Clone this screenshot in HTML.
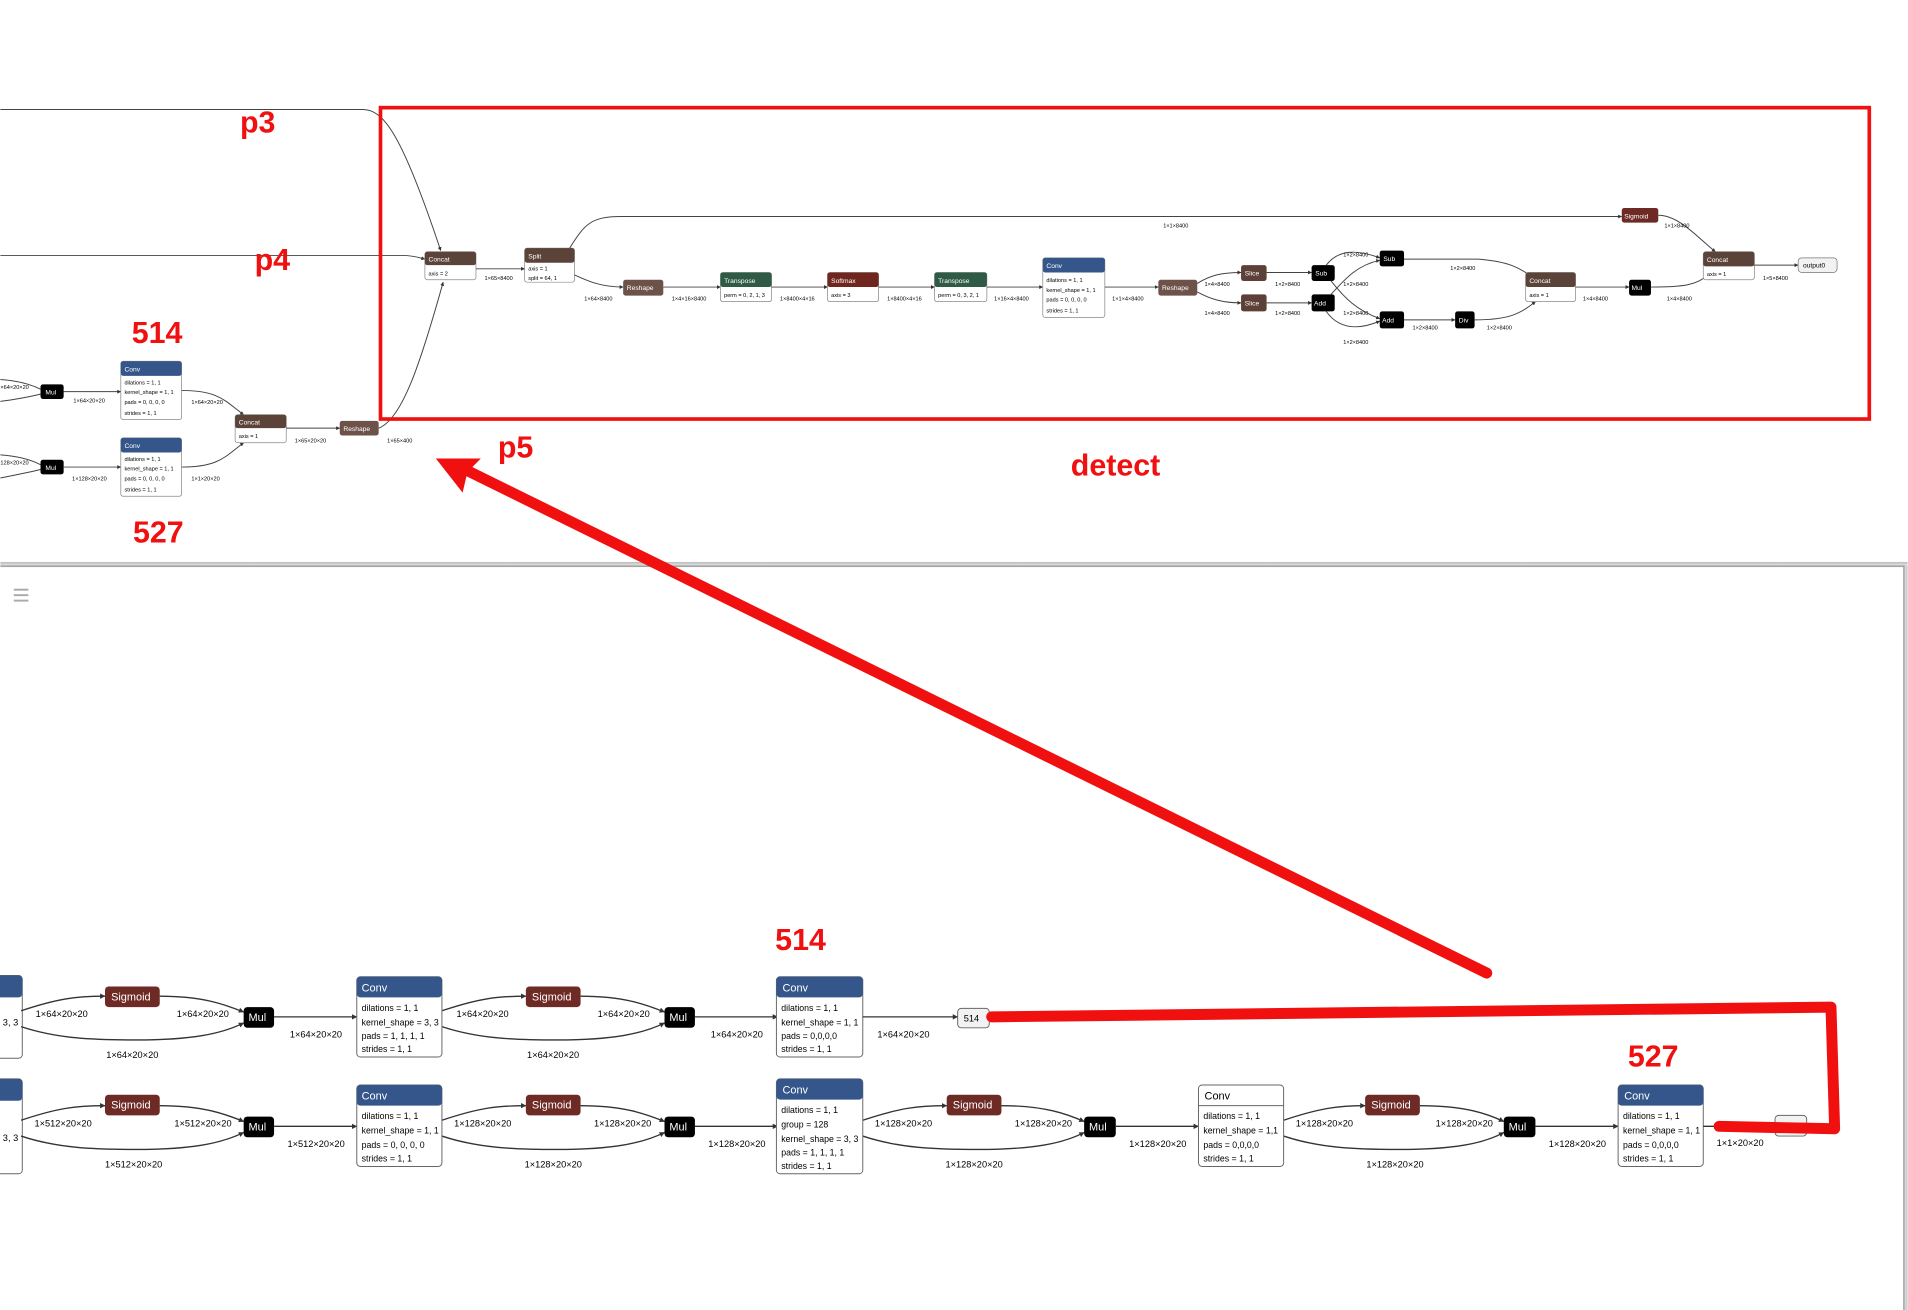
<!DOCTYPE html>
<html><head><meta charset="utf-8"><style>
html,body{margin:0;padding:0;background:#fff;width:1908px;height:1310px;overflow:hidden}
svg{display:block}
.e{fill:none;stroke:#444;stroke-width:0.8}
.eb{fill:none;stroke:#333;stroke-width:1.1}
.t{font-family:"Liberation Sans",sans-serif;font-size:4.6px;fill:#000}
.tw{font-family:"Liberation Sans",sans-serif;font-size:5.5px;fill:#fff}
.l{font-family:"Liberation Sans",sans-serif;font-size:7.6px;fill:#000}
.a{font-family:"Liberation Sans",sans-serif;font-size:7.2px;fill:#000}
.lw{font-family:"Liberation Sans",sans-serif;font-size:9px;fill:#fff}
.r{font-family:"Liberation Sans",sans-serif;font-size:25px;font-weight:bold;fill:#f01010}
</style></head><body>
<svg width="1908" height="1310" viewBox="0 0 1568 1077" xmlns="http://www.w3.org/2000/svg">
<defs>
<marker id="a" viewBox="0 0 6 6" refX="5.5" refY="3" markerWidth="4" markerHeight="4" orient="auto"><path d="M0,0L6,3L0,6z" fill="#333"/></marker>
<linearGradient id="sh" x1="0" y1="0" x2="0" y2="1"><stop offset="0" stop-color="#bbb"/><stop offset="1" stop-color="#fff"/></linearGradient>
</defs>

<!-- ===== TOP SECTION ===== -->
<path class="e" d="M0,90 L298,90 C315,90 330,110 362,206" marker-end="url(#a)"/>
<path class="e" d="M0,210 L330,210 C340,210 345,212 349,213" marker-end="url(#a)"/>
<path class="e" d="M311,352 C330,345 345,300 364,232" marker-end="url(#a)"/>
<path class="e" d="M0,312 C15,313 25,316 33,320"/>
<path class="e" d="M0,330 C15,328 25,326 33,324"/>
<path class="e" d="M0,374 C15,375 25,378 33,382"/>
<path class="e" d="M0,393 C15,390 25,388 33,386"/>
<rect x="33" y="316" width="19" height="12" rx="2" fill="#000"/><text class="tw" x="37" y="324.5">Mul</text>
<rect x="33" y="378" width="19" height="12" rx="2" fill="#000"/><text class="tw" x="37" y="386.5">Mul</text>
<text class="t" x="0" y="320">×64×20×20</text><text class="t" x="0" y="382">128×20×20</text>
<path class="e" d="M52,322 L99,322" marker-end="url(#a)"/><text class="t" x="60" y="331">1×64×20×20</text>
<path class="e" d="M52,384 L99,384" marker-end="url(#a)"/><text class="t" x="59" y="395">1×128×20×20</text>
<g>
<rect x="99" y="297" width="50" height="48" rx="2" fill="#fff" stroke="#888" stroke-width="0.6"/>
<rect x="99" y="297" width="50" height="12" rx="2" fill="#34568a"/>
<text class="tw" x="102" y="305.5">Conv</text>
<text class="t" x="102" y="316">dilations = 1, 1</text><text class="t" x="102" y="324">kernel_shape = 1, 1</text><text class="t" x="102" y="332">pads = 0, 0, 0, 0</text><text class="t" x="102" y="341">strides = 1, 1</text>
</g>
<g>
<rect x="99" y="360" width="50" height="48" rx="2" fill="#fff" stroke="#888" stroke-width="0.6"/>
<rect x="99" y="360" width="50" height="12" rx="2" fill="#34568a"/>
<text class="tw" x="102" y="368.5">Conv</text>
<text class="t" x="102" y="379">dilations = 1, 1</text><text class="t" x="102" y="387">kernel_shape = 1, 1</text><text class="t" x="102" y="395">pads = 0, 0, 0, 0</text><text class="t" x="102" y="404">strides = 1, 1</text>
</g>
<path class="e" d="M149,321 C180,321 185,330 200,341" marker-end="url(#a)"/><text class="t" x="157" y="332">1×64×20×20</text>
<path class="e" d="M149,384 C180,384 185,375 200,364" marker-end="url(#a)"/><text class="t" x="157" y="395">1×1×20×20</text>
<rect x="193" y="341" width="42" height="23" rx="2" fill="#fff" stroke="#888" stroke-width="0.6"/>
<rect x="193" y="341" width="42" height="11" rx="2" fill="#5c4339"/>
<text class="tw" x="196" y="349">Concat</text><text class="t" x="196" y="360">axis = 1</text>
<path class="e" d="M235,352 L279,352" marker-end="url(#a)"/><text class="t" x="242" y="364">1×65×20×20</text>
<rect x="279" y="346" width="32" height="12" rx="2" fill="#6d5249"/><text class="tw" x="282" y="354.5">Reshape</text>
<text class="t" x="318" y="364">1×65×400</text>

<rect x="349" y="207" width="42" height="23" rx="2" fill="#fff" stroke="#888" stroke-width="0.6"/>
<rect x="349" y="207" width="42" height="11" rx="2" fill="#5c4339"/>
<text class="tw" x="352" y="215">Concat</text><text class="t" x="352" y="226.5">axis = 2</text>
<path class="e" d="M391,221 L431,221" marker-end="url(#a)"/><text class="t" x="398" y="230">1×65×8400</text>
<rect x="431" y="204" width="41" height="28" rx="2" fill="#fff" stroke="#888" stroke-width="0.6"/>
<rect x="431" y="204" width="41" height="12" rx="2" fill="#5c4339"/>
<text class="tw" x="434" y="212.5">Split</text><text class="t" x="434" y="222.5">axis = 1</text><text class="t" x="434" y="230">split = 64, 1</text>
<path class="e" d="M468,204 C480,185 485,178 510,178 L1333,178" marker-end="url(#a)"/><text class="t" x="956" y="187">1×1×8400</text>
<path class="e" d="M472,226 C485,232 495,236 512,236" marker-end="url(#a)"/><text class="t" x="480" y="247">1×64×8400</text>
<rect x="512" y="230" width="33" height="13" rx="2" fill="#6d5249"/><text class="tw" x="515" y="238.5">Reshape</text>
<path class="e" d="M545,236 L592,236" marker-end="url(#a)"/><text class="t" x="552" y="247">1×4×16×8400</text>
<rect x="592" y="224" width="42" height="24" rx="2" fill="#fff" stroke="#888" stroke-width="0.6"/>
<rect x="592" y="224" width="42" height="12" rx="2" fill="#2f5a45"/>
<text class="tw" x="595" y="232.5">Transpose</text><text class="t" x="595" y="244">perm = 0, 2, 1, 3</text>
<path class="e" d="M634,236 L680,236" marker-end="url(#a)"/><text class="t" x="641" y="247">1×8400×4×16</text>
<rect x="680" y="224" width="42" height="24" rx="2" fill="#fff" stroke="#888" stroke-width="0.6"/>
<rect x="680" y="224" width="42" height="12" rx="2" fill="#70261f"/>
<text class="tw" x="683" y="232.5">Softmax</text><text class="t" x="683" y="244">axis = 3</text>
<path class="e" d="M722,236 L768,236" marker-end="url(#a)"/><text class="t" x="729" y="247">1×8400×4×16</text>
<rect x="768" y="224" width="43" height="24" rx="2" fill="#fff" stroke="#888" stroke-width="0.6"/>
<rect x="768" y="224" width="43" height="12" rx="2" fill="#2f5a45"/>
<text class="tw" x="771" y="232.5">Transpose</text><text class="t" x="771" y="244">perm = 0, 3, 2, 1</text>
<path class="e" d="M811,236 L857,236" marker-end="url(#a)"/><text class="t" x="817" y="247">1×16×4×8400</text>
<rect x="857" y="212" width="51" height="49" rx="2" fill="#fff" stroke="#888" stroke-width="0.6"/>
<rect x="857" y="212" width="51" height="12" rx="2" fill="#34568a"/>
<text class="tw" x="860" y="220.5">Conv</text>
<text class="t" x="860" y="232">dilations = 1, 1</text><text class="t" x="860" y="240">kernel_shape = 1, 1</text><text class="t" x="860" y="248">pads = 0, 0, 0, 0</text><text class="t" x="860" y="257">strides = 1, 1</text>
<path class="e" d="M908,236 L952,236" marker-end="url(#a)"/><text class="t" x="914" y="247">1×1×4×8400</text>
<rect x="952" y="230" width="32" height="13" rx="2" fill="#6d5249"/><text class="tw" x="955" y="238.5">Reshape</text>
<path class="e" d="M984,233 C995,226 1005,224 1020,224" marker-end="url(#a)"/><text class="t" x="990" y="235">1×4×8400</text>
<path class="e" d="M984,240 C995,246 1005,249 1020,249" marker-end="url(#a)"/><text class="t" x="990" y="259">1×4×8400</text>
<rect x="1020" y="218" width="21" height="13" rx="2" fill="#5d4037"/><text class="tw" x="1023" y="226.5">Slice</text>
<rect x="1020" y="242" width="21" height="14" rx="2" fill="#5d4037"/><text class="tw" x="1023" y="251">Slice</text>
<path class="e" d="M1041,224 L1078,224" marker-end="url(#a)"/><text class="t" x="1048" y="235">1×2×8400</text>
<path class="e" d="M1041,249 L1078,249" marker-end="url(#a)"/><text class="t" x="1048" y="259">1×2×8400</text>
<rect x="1078" y="218" width="19" height="13" rx="2" fill="#000"/><text class="tw" x="1081" y="226.5">Sub</text>
<rect x="1078" y="242" width="19" height="14" rx="2" fill="#000"/><text class="tw" x="1080" y="251">Add</text>
<path class="e" d="M1090,218 C1100,205 1115,205 1134,212" marker-end="url(#a)"/><text class="t" x="1104" y="211">1×2×8400</text>
<path class="e" d="M1094,242 C1105,230 1115,218 1134,214" marker-end="url(#a)"/><text class="t" x="1104" y="235">1×2×8400</text>
<path class="e" d="M1094,231 C1105,245 1115,255 1134,262" marker-end="url(#a)"/><text class="t" x="1104" y="259">1×2×8400</text>
<path class="e" d="M1090,256 C1100,270 1115,272 1134,264" marker-end="url(#a)"/><text class="t" x="1104" y="283">1×2×8400</text>
<rect x="1134" y="206" width="20" height="13" rx="2" fill="#000"/><text class="tw" x="1137" y="214.5">Sub</text>
<rect x="1134" y="256" width="20" height="14" rx="2" fill="#000"/><text class="tw" x="1136" y="265">Add</text>
<path class="e" d="M1154,213 L1215,213 C1240,215 1250,220 1262,230" marker-end="url(#a)"/><text class="t" x="1192" y="222">1×2×8400</text>
<path class="e" d="M1154,263 L1196,263" marker-end="url(#a)"/><text class="t" x="1161" y="271">1×2×8400</text>
<rect x="1196" y="256" width="16" height="14" rx="2" fill="#000"/><text class="tw" x="1199" y="265">Div</text>
<path class="e" d="M1212,263 C1240,263 1250,258 1262,248" marker-end="url(#a)"/><text class="t" x="1222" y="271">1×2×8400</text>
<rect x="1254" y="224" width="41" height="24" rx="2" fill="#fff" stroke="#888" stroke-width="0.6"/>
<rect x="1254" y="224" width="41" height="12" rx="2" fill="#5c4339"/>
<text class="tw" x="1257" y="232.5">Concat</text><text class="t" x="1257" y="244">axis = 1</text>
<path class="e" d="M1295,236 L1339,236" marker-end="url(#a)"/><text class="t" x="1301" y="247">1×4×8400</text>
<rect x="1339" y="230" width="18" height="13" rx="2" fill="#000"/><text class="tw" x="1341" y="238.5">Mul</text>
<path class="e" d="M1357,236 C1385,236 1395,234 1404,226" marker-end="url(#a)"/><text class="t" x="1370" y="247">1×4×8400</text>
<rect x="1333" y="171" width="30" height="12" rx="2" fill="#6e2a25"/><text class="tw" x="1335" y="179.5">Sigmoid</text>
<path class="e" d="M1363,177 C1380,177 1395,195 1410,207" marker-end="url(#a)"/><text class="t" x="1368" y="187">1×1×8400</text>
<rect x="1400" y="207" width="42" height="23" rx="2" fill="#fff" stroke="#888" stroke-width="0.6"/>
<rect x="1400" y="207" width="42" height="12" rx="2" fill="#5c4339"/>
<text class="tw" x="1403" y="215.5">Concat</text><text class="t" x="1403" y="227">axis = 1</text>
<path class="e" d="M1442,218 L1478,218" marker-end="url(#a)"/><text class="t" x="1449" y="230">1×5×8400</text>
<rect x="1478" y="212" width="32" height="12" rx="3" fill="#f2f2f2" stroke="#777" stroke-width="0.6"/><text class="t" x="1482" y="220" style="font-size:5.5px">output0</text>

<rect x="312.5" y="88.5" width="1224" height="256" fill="none" stroke="#f01010" stroke-width="3"/>
<text class="r" x="197" y="109">p3</text>
<text class="r" x="209" y="222">p4</text>
<text class="r" x="108" y="282">514</text>
<text class="r" x="109" y="446">527</text>
<text class="r" x="409" y="376">p5</text>
<text class="r" x="880" y="391">detect</text>

<!-- ===== BOTTOM PANEL ===== -->
<rect x="0" y="462" width="1568" height="5" fill="url(#sh)"/>
<path d="M0,465.5 L1565,465.5 L1565,1077" fill="none" stroke="#999" stroke-width="1.2"/>
<rect x="1566" y="465" width="2" height="612" fill="#ccc"/>
<rect x="11" y="484" width="12" height="1.6" fill="#aaa"/><rect x="11" y="488.5" width="12" height="1.6" fill="#aaa"/><rect x="11" y="493" width="12" height="1.6" fill="#aaa"/>

<rect x="-10" y="802" width="28" height="68" rx="3" fill="#fff" stroke="#666" stroke-width="0.8"/>
<rect x="-10" y="802" width="28" height="18" rx="3" fill="#34568a"/>
<text class="l" x="2" y="843">3, 3</text>
<rect x="-10" y="887" width="28" height="78" rx="3" fill="#fff" stroke="#666" stroke-width="0.8"/>
<rect x="-10" y="887" width="28" height="18" rx="3" fill="#34568a"/>
<text class="l" x="2" y="938">3, 3</text>

<g transform="translate(17,836)">
<path class="eb" d="M0,-5 C30,-15 45,-17 69,-17" marker-end="url(#a)"/>
<rect x="69" y="-25" width="45" height="17" rx="3" fill="#6e2a25"/><text class="lw" x="74" y="-13.5">Sigmoid</text>
<path class="eb" d="M114,-17 C150,-17 168,-10 183,-4" marker-end="url(#a)"/>
<path class="eb" d="M0,8 C30,18 60,19 95,19 C140,19 165,14 183,5" marker-end="url(#a)"/>
<rect x="183" y="-8" width="25" height="17" rx="3" fill="#000"/><text class="lw" x="187" y="3.5">Mul</text>
<path class="eb" d="M208,0 L276,0" marker-end="url(#a)"/>
<text class="l" x="12" y="0">1×64×20×20</text><text class="l" x="128" y="0">1×64×20×20</text><text class="l" x="70" y="34">1×64×20×20</text><text class="l" x="221" y="17">1×64×20×20</text>
</g>
<g transform="translate(363,836)">
<path class="eb" d="M0,-5 C30,-15 45,-17 69,-17" marker-end="url(#a)"/>
<rect x="69" y="-25" width="45" height="17" rx="3" fill="#6e2a25"/><text class="lw" x="74" y="-13.5">Sigmoid</text>
<path class="eb" d="M114,-17 C150,-17 168,-10 183,-4" marker-end="url(#a)"/>
<path class="eb" d="M0,8 C30,18 60,19 95,19 C140,19 165,14 183,5" marker-end="url(#a)"/>
<rect x="183" y="-8" width="25" height="17" rx="3" fill="#000"/><text class="lw" x="187" y="3.5">Mul</text>
<path class="eb" d="M208,0 L276,0" marker-end="url(#a)"/>
<text class="l" x="12" y="0">1×64×20×20</text><text class="l" x="128" y="0">1×64×20×20</text><text class="l" x="70" y="34">1×64×20×20</text><text class="l" x="221" y="17">1×64×20×20</text>
</g>
<g transform="translate(17,926)">
<path class="eb" d="M0,-5 C30,-15 45,-17 69,-17" marker-end="url(#a)"/>
<rect x="69" y="-26" width="45" height="17" rx="3" fill="#6e2a25"/><text class="lw" x="74" y="-14.5">Sigmoid</text>
<path class="eb" d="M114,-17 C150,-17 168,-10 183,-4" marker-end="url(#a)"/>
<path class="eb" d="M0,8 C30,18 60,19 95,19 C140,19 165,14 183,5" marker-end="url(#a)"/>
<rect x="183" y="-8" width="25" height="17" rx="3" fill="#000"/><text class="lw" x="187" y="3.5">Mul</text>
<path class="eb" d="M208,0 L276,0" marker-end="url(#a)"/>
<text class="l" x="11" y="0">1×512×20×20</text><text class="l" x="126" y="0">1×512×20×20</text><text class="l" x="69" y="34">1×512×20×20</text><text class="l" x="219" y="17">1×512×20×20</text>
</g>
<g transform="translate(363,926)">
<path class="eb" d="M0,-5 C30,-15 45,-17 69,-17" marker-end="url(#a)"/>
<rect x="69" y="-26" width="45" height="17" rx="3" fill="#6e2a25"/><text class="lw" x="74" y="-14.5">Sigmoid</text>
<path class="eb" d="M114,-17 C150,-17 168,-10 183,-4" marker-end="url(#a)"/>
<path class="eb" d="M0,8 C30,18 60,19 95,19 C140,19 165,14 183,5" marker-end="url(#a)"/>
<rect x="183" y="-8" width="25" height="17" rx="3" fill="#000"/><text class="lw" x="187" y="3.5">Mul</text>
<path class="eb" d="M208,0 L276,0" marker-end="url(#a)"/>
<text class="l" x="10" y="0">1×128×20×20</text><text class="l" x="125" y="0">1×128×20×20</text><text class="l" x="68" y="34">1×128×20×20</text><text class="l" x="219" y="17">1×128×20×20</text>
</g>
<g transform="translate(709,926)">
<path class="eb" d="M0,-5 C30,-15 45,-17 69,-17" marker-end="url(#a)"/>
<rect x="69" y="-26" width="45" height="17" rx="3" fill="#6e2a25"/><text class="lw" x="74" y="-14.5">Sigmoid</text>
<path class="eb" d="M114,-17 C150,-17 168,-10 182,-4" marker-end="url(#a)"/>
<path class="eb" d="M0,8 C30,18 60,19 95,19 C140,19 165,14 182,5" marker-end="url(#a)"/>
<rect x="182" y="-8" width="26" height="17" rx="3" fill="#000"/><text class="lw" x="186" y="3.5">Mul</text>
<path class="eb" d="M208,0 L276,0" marker-end="url(#a)"/>
<text class="l" x="10" y="0">1×128×20×20</text><text class="l" x="125" y="0">1×128×20×20</text><text class="l" x="68" y="34">1×128×20×20</text><text class="l" x="219" y="17">1×128×20×20</text>
</g>
<g transform="translate(1055,926)">
<path class="eb" d="M0,-5 C30,-15 45,-17 67,-17" marker-end="url(#a)"/>
<rect x="67" y="-26" width="45" height="17" rx="3" fill="#6e2a25"/><text class="lw" x="72" y="-14.5">Sigmoid</text>
<path class="eb" d="M112,-17 C150,-17 168,-10 181,-4" marker-end="url(#a)"/>
<path class="eb" d="M0,8 C30,18 60,19 95,19 C140,19 165,14 181,5" marker-end="url(#a)"/>
<rect x="181" y="-8" width="26" height="17" rx="3" fill="#000"/><text class="lw" x="185" y="3.5">Mul</text>
<path class="eb" d="M207,0 L275,0" marker-end="url(#a)"/>
<text class="l" x="10" y="0">1×128×20×20</text><text class="l" x="125" y="0">1×128×20×20</text><text class="l" x="68" y="34">1×128×20×20</text><text class="l" x="218" y="17">1×128×20×20</text>
</g>

<g>
<rect x="293" y="803" width="70" height="66" rx="3" fill="#fff" stroke="#666" stroke-width="0.8"/>
<rect x="293" y="803" width="70" height="17" rx="3" fill="#34568a"/><text class="lw" x="297" y="815">Conv</text>
<text class="a" x="297" y="831">dilations = 1, 1</text><text class="a" x="297" y="843">kernel_shape = 3, 3</text><text class="a" x="297" y="854">pads = 1, 1, 1, 1</text><text class="a" x="297" y="865">strides = 1, 1</text>
</g>
<g>
<rect x="638" y="803" width="71" height="66" rx="3" fill="#fff" stroke="#666" stroke-width="0.8"/>
<rect x="638" y="803" width="71" height="17" rx="3" fill="#34568a"/><text class="lw" x="643" y="815">Conv</text>
<text class="a" x="642" y="831">dilations = 1, 1</text><text class="a" x="642" y="843">kernel_shape = 1, 1</text><text class="a" x="642" y="854">pads = 0,0,0,0</text><text class="a" x="642" y="865">strides = 1, 1</text>
</g>
<path class="eb" d="M709,836 L787,836" marker-end="url(#a)"/><text class="l" x="721" y="853">1×64×20×20</text>
<rect x="787" y="829" width="26" height="16" rx="3" fill="#f2f2f2" stroke="#666" stroke-width="0.8"/><text class="l" x="792" y="840">514</text>

<g>
<rect x="293" y="892" width="70" height="67" rx="3" fill="#fff" stroke="#666" stroke-width="0.8"/>
<rect x="293" y="892" width="70" height="17" rx="3" fill="#34568a"/><text class="lw" x="297" y="904">Conv</text>
<text class="a" x="297" y="920">dilations = 1, 1</text><text class="a" x="297" y="932">kernel_shape = 1, 1</text><text class="a" x="297" y="944">pads = 0, 0, 0, 0</text><text class="a" x="297" y="955">strides = 1, 1</text>
</g>
<g>
<rect x="638" y="887" width="71" height="78" rx="3" fill="#fff" stroke="#666" stroke-width="0.8"/>
<rect x="638" y="887" width="71" height="17" rx="3" fill="#34568a"/><text class="lw" x="643" y="899">Conv</text>
<text class="a" x="642" y="915">dilations = 1, 1</text><text class="a" x="642" y="927">group = 128</text><text class="a" x="642" y="939">kernel_shape = 3, 3</text><text class="a" x="642" y="950">pads = 1, 1, 1, 1</text><text class="a" x="642" y="961">strides = 1, 1</text>
</g>
<g>
<rect x="985" y="892" width="70" height="67" rx="3" fill="#fff" stroke="#666" stroke-width="0.8"/>
<line x1="985" y1="909" x2="1055" y2="909" stroke="#666" stroke-width="0.8"/><text class="l" x="990" y="904" style="font-size:9px">Conv</text>
<text class="a" x="989" y="920">dilations = 1, 1</text><text class="a" x="989" y="932">kernel_shape = 1,1</text><text class="a" x="989" y="944">pads = 0,0,0,0</text><text class="a" x="989" y="955">strides = 1, 1</text>
</g>
<g>
<rect x="1330" y="892" width="70" height="67" rx="3" fill="#fff" stroke="#666" stroke-width="0.8"/>
<rect x="1330" y="892" width="70" height="17" rx="3" fill="#34568a"/><text class="lw" x="1335" y="904">Conv</text>
<text class="a" x="1334" y="920">dilations = 1, 1</text><text class="a" x="1334" y="932">kernel_shape = 1, 1</text><text class="a" x="1334" y="944">pads = 0,0,0,0</text><text class="a" x="1334" y="955">strides = 1, 1</text>
</g>
<path class="eb" d="M1400,926 L1459,926"/><text class="l" x="1411" y="942">1×1×20×20</text>
<rect x="1459" y="917" width="26" height="17" rx="3" fill="#f2f2f2" stroke="#666" stroke-width="0.8"/>

<text class="r" x="637" y="781">514</text>
<text class="r" x="1338" y="877">527</text>

<path d="M815,836 L1505,828 L1508,928 L1413,926" fill="none" stroke="#f01010" stroke-width="9" stroke-linejoin="round" stroke-linecap="round"/>
<path d="M1222,800 L382,386" fill="none" stroke="#f01010" stroke-width="9" stroke-linecap="round"/>
<path d="M358,377 L395,377 L384,388 L380,405 z" fill="#f01010"/>
</svg>
</body></html>
